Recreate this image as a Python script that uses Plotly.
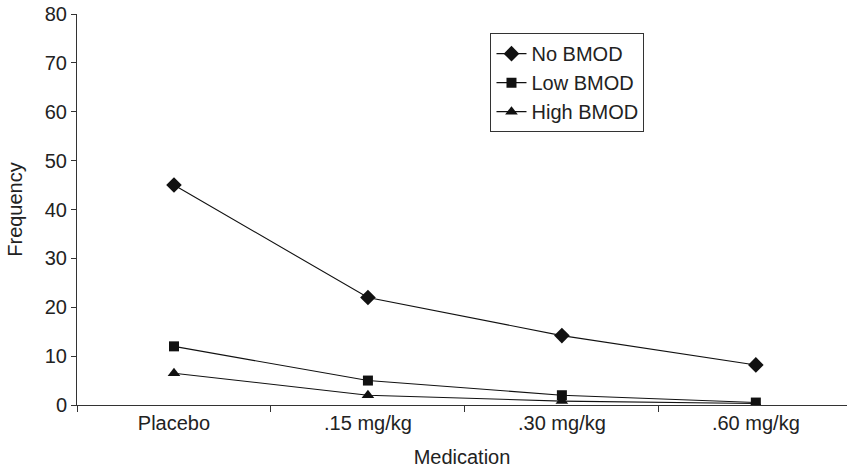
import plotly.graph_objects as go

categories = ["Placebo", ".15 mg/kg", ".30 mg/kg", ".60 mg/kg"]
no_bmod = [45, 22, 14.2, 8.2]
low_bmod = [12, 5, 2, 0.5]
high_bmod = [6.5, 2, 0.8, 0.3]

series = [
    ("No BMOD", no_bmod, "diamond", 12),
    ("Low BMOD", low_bmod, "square", 10),
    ("High BMOD", high_bmod, "triangle-up", 11),
]

fig = go.Figure()
for name, vals, sym, sz in series:
    fig.add_trace(go.Scatter(
        x=categories, y=vals, name=name, mode="lines+markers",
        line=dict(color="#111", width=1.1),
        marker=dict(symbol=sym, size=sz, color="#111"),
    ))

font = dict(family="Liberation Sans, Arial, sans-serif", size=20, color="#222")
fig.update_layout(
    width=847, height=471,
    margin=dict(l=77, r=0, t=14, b=66),
    paper_bgcolor="white", plot_bgcolor="white",
    font=font,
    showlegend=True,
    legend=dict(
        x=0.537, y=0.951, xanchor="left", yanchor="top",
        bordercolor="#333", borderwidth=1, bgcolor="white",
        font=dict(family="Liberation Sans, Arial, sans-serif", size=20, color="#222"),
        tracegroupgap=0, itemwidth=30,
    ),
)
fig.update_xaxes(
    type="category", range=[-0.5, 3.47],
    showline=True, linecolor="#333", linewidth=1,
    ticks="outside", tickson="boundaries", ticklen=6, tickcolor="#333",
    showgrid=False, zeroline=False,
    title=dict(text="Medication", standoff=16, font=font),
    tickfont=font,
)
fig.update_yaxes(
    range=[0, 80], dtick=10,
    showline=True, linecolor="#333", linewidth=1,
    ticks="outside", ticklen=5, tickcolor="#333",
    showgrid=False, zeroline=False,
    title=dict(text="Frequency", standoff=16, font=font),
    tickfont=font,
)

fig.write_html("out.html")
